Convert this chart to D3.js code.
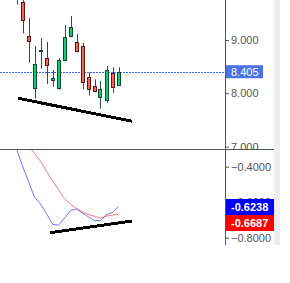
<!DOCTYPE html>
<html>
<head>
<meta charset="utf-8">
<script src="https://cdn.jsdelivr.net/npm/d3@7"></script>
<style>
  body { margin: 0; background: #fff; }
  svg { display: block; font-family: "Liberation Sans", Arial, sans-serif; }
</style>
</head>
<body>
<div id="chart"></div>
<script>
// candle data
const opens  = [10.10, 9.707, 9.069, 8.075, 8.810, 8.657, 8.218, 8.075, 8.600, 9.051, 8.957, 8.882, 8.300, 8.131, 7.906, 7.850, 8.375, 8.150];
const highs  = [10.25, 9.750, 9.413, 8.887, 9.037, 8.962, 8.437, 8.657, 9.281, 9.450, 9.113, 8.944, 8.386, 8.263, 8.231, 8.512, 8.488, 8.488];
const lows   = [9.666, 9.126, 8.574, 7.899, 8.462, 8.174, 8.124, 8.070, 8.600, 9.050, 8.769, 8.075, 7.962, 8.019, 7.711, 7.824, 8.011, 8.150];
const closes = [9.780, 9.351, 8.957, 8.550, 8.815, 8.507, 8.281, 8.619, 9.051, 9.238, 8.769, 8.188, 8.056, 8.019, 8.075, 8.431, 8.094, 8.405];

// oscillator lines
const fastLine = [-0.300, -0.395, -0.484, -0.572, -0.610, -0.664, -0.724, -0.730, -0.689, -0.647, -0.638, -0.662, -0.683, -0.704, -0.704, -0.670, -0.657, -0.6238];
const slowLine = [null, null, -0.283, -0.326, -0.369, -0.425, -0.480, -0.530, -0.580, -0.612, -0.636, -0.655, -0.669, -0.680, -0.690, -0.678, -0.672, -0.6687];

// drawn trend lines [index, value]
const priceTrend = [[0.3, 7.906], [19.3, 7.475]];
const oscTrend = [[5.58, -0.772], [19.2, -0.706]];

const priceTicks = [7, 8, 9];
const oscTicks = [-0.4, -0.6, -0.8];
const lastPrice = 8.405;

const width = 290, height = 283;
const axisX = 225;
const sepY = 149.5;
const bottomY = 245;

const svg = d3.select("#chart").append("svg")
  .attr("width", width).attr("height", height);

const x = d3.scaleLinear().domain([0, 17]).range([16.5, 118.5]);
const y = d3.scaleLinear().domain([8, 9]).range([93.3, 40]);
const y2 = d3.scaleLinear().domain([-0.4, -0.8]).range([166.7, 237.7]);

const defs = svg.append("defs");
defs.append("clipPath").attr("id", "clipTop")
  .append("rect").attr("x", 0).attr("y", 0).attr("width", axisX).attr("height", sepY);
defs.append("clipPath").attr("id", "clipBot")
  .append("rect").attr("x", 0).attr("y", sepY).attr("width", axisX).attr("height", bottomY - sepY);
defs.append("clipPath").attr("id", "clipAxisTop")
  .append("rect").attr("x", 0).attr("y", 0).attr("width", 60).attr("height", sepY - 0.5);

// scrollbar strip
svg.append("rect").attr("x", 274).attr("y", 0).attr("width", 6).attr("height", bottomY)
  .attr("fill", "#eceef2");

// upper panel
const upper = svg.append("g").attr("clip-path", "url(#clipTop)");

upper.append("line")
  .attr("x1", 0).attr("x2", axisX)
  .attr("y1", Math.round(y(lastPrice)) + 0.5).attr("y2", Math.round(y(lastPrice)) + 0.5)
  .attr("stroke", "#3366ff").attr("stroke-dasharray", "2,1");

const idx = d3.range(opens.length);
const candles = upper.selectAll("g.candle").data(idx).join("g").attr("class", "candle");

candles.append("line")
  .attr("x1", i => Math.round(x(i)) + 0.5).attr("x2", i => Math.round(x(i)) + 0.5)
  .attr("y1", i => y(highs[i])).attr("y2", i => y(lows[i]))
  .attr("stroke", "#1d5a38").attr("stroke-width", 1);

candles.append("rect")
  .attr("x", i => Math.round(x(i)) - 1.5)
  .attr("width", 3)
  .attr("y", i => Math.round(y(Math.max(opens[i], closes[i]))) + 0.5)
  .attr("height", i => Math.max(1, Math.round(Math.abs(y(opens[i]) - y(closes[i]))) - 1))
  .attr("fill", i => closes[i] >= opens[i] ? "#12cc74" : "#f4655c")
  .attr("stroke", i => closes[i] >= opens[i] ? "#0d4a2b" : "#5e1414")
  .attr("stroke-width", 1);

upper.append("line")
  .attr("x1", x(priceTrend[0][0])).attr("y1", y(priceTrend[0][1]))
  .attr("x2", x(priceTrend[1][0])).attr("y2", y(priceTrend[1][1]))
  .attr("stroke", "#000").attr("stroke-width", 3)
  .attr("shape-rendering", "crispEdges");

// lower panel
const lower = svg.append("g").attr("clip-path", "url(#clipBot)");

const line = d3.line()
  .defined(d => d != null)
  .x((d, i) => x(i))
  .y(d => y2(d));

lower.append("path").datum(slowLine).attr("d", line)
  .attr("fill", "none").attr("stroke", "#ff5c5c").attr("stroke-width", 1).attr("opacity", 0.85);
lower.append("path").datum(fastLine).attr("d", line)
  .attr("fill", "none").attr("stroke", "#5a5aff").attr("stroke-width", 1).attr("opacity", 0.85);

lower.append("line")
  .attr("x1", x(oscTrend[0][0])).attr("y1", y2(oscTrend[0][1]))
  .attr("x2", x(oscTrend[1][0])).attr("y2", y2(oscTrend[1][1]))
  .attr("stroke", "#000").attr("stroke-width", 3)
  .attr("shape-rendering", "crispEdges");

// axes
const axTop = svg.append("g")
  .attr("transform", `translate(${axisX},0)`)
  .append("g").attr("clip-path", "url(#clipAxisTop)")
  .call(d3.axisRight(y).tickValues(priceTicks).tickFormat(d3.format(".3f")).tickSize(4).tickPadding(2));
const axBot = svg.append("g")
  .attr("transform", `translate(${axisX},0)`)
  .call(d3.axisRight(y2).tickValues(oscTicks).tickFormat(d3.format(".4f")).tickSize(4).tickPadding(2));

[axTop, axBot].forEach(a => {
  a.select(".domain").remove();
  a.selectAll(".tick line").attr("stroke", "#555");
  a.selectAll(".tick text").attr("fill", "#555").attr("font-size", 11)
    .attr("font-family", "'Liberation Sans', Arial, sans-serif");
});

svg.append("line").attr("x1", axisX + 0.5).attr("x2", axisX + 0.5)
  .attr("y1", 0).attr("y2", bottomY).attr("stroke", "#555");
svg.append("line").attr("x1", 0).attr("x2", 274)
  .attr("y1", sepY).attr("y2", sepY).attr("stroke", "#555");

// value labels
const priceLabel = svg.append("g");
priceLabel.append("rect")
  .attr("x", axisX + 1).attr("y", y(lastPrice) - 6.5)
  .attr("width", 37).attr("height", 13).attr("fill", "#4a74e4");
priceLabel.append("text")
  .attr("x", axisX + 6).attr("y", y(lastPrice)).attr("dy", "0.35em")
  .attr("fill", "#fff").attr("font-size", 11).text(lastPrice.toFixed(3));

const oscLabels = [
  { v: fastLine[fastLine.length - 1], top: 199, color: "#0000ff" },
  { v: slowLine[slowLine.length - 1], top: 215, color: "#ff0000" }
];
const ol = svg.append("g").selectAll("g").data(oscLabels).join("g");
ol.append("rect")
  .attr("x", axisX + 1).attr("y", d => d.top)
  .attr("width", 274 - axisX - 1).attr("height", 16).attr("fill", d => d.color);
ol.append("text")
  .attr("x", axisX + 6).attr("y", d => d.top + 8).attr("dy", "0.35em")
  .attr("fill", "#fff").attr("font-size", 11).attr("font-weight", "bold")
  .text(d => d.v.toFixed(4));
</script>
</body>
</html>
